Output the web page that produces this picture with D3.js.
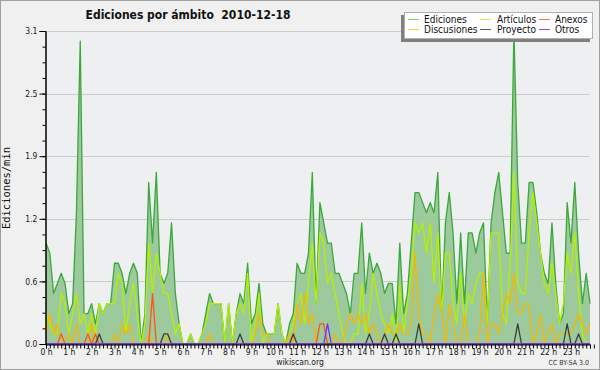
<!DOCTYPE html>
<html>
<head>
<meta charset="utf-8">
<script src="https://cdn.jsdelivr.net/npm/d3@7"></script>
<style>
  body { margin: 0; background: #f0f0f0; }
  svg { display: block; }
  text { font-family: "DejaVu Sans Condensed", "DejaVu Sans", sans-serif; font-stretch: condensed; }
</style>
</head>
<body>
<div id="chart"></div>
<script>
// Canvas
const width = 600,
  height = 370,
  marginLeft = 46,
  marginRight = 10,
  marginTop = 31,
  marginBottom = 26

// Data: edits per minute, one value every 10 minutes
const ediciones = [
  1.0,0.9,0.5,0.6,0.7,0.6,0.3,0.4,1.3,3.0,
  0.3,0.3,0.4,0.2,0.4,0.3,0.4,0.4,0.8,0.8,
  0.7,0.5,0.7,0.8,0.7,0.0,0.3,1.6,1.0,1.7,
  0.7,0.6,0.7,1.2,0.5,0.2,0.0,0.0,0.1,0.0,
  0.0,0.1,0.3,0.5,0.4,0.4,0.4,0.0,0.4,0.0,
  0.3,0.5,0.4,0.8,0.2,0.3,0.6,0.2,0.1,0.1,
  0.1,0.4,0.1,0.0,0.2,0.3,0.8,0.7,0.7,0.9,
  1.7,0.4,1.4,1.2,1.0,1.0,0.7,0.7,0.6,0.5,
  0.3,0.7,0.7,1.2,0.5,0.9,0.7,0.8,0.7,0.5,
  0.6,0.6,0.2,1.0,0.3,0.5,1.0,1.5,1.5,1.4,
  1.3,1.4,1.3,1.7,0.3,1.2,1.5,1.1,0.4,1.1,
  0.4,1.1,1.1,0.9,1.1,1.2,0.2,1.2,1.5,1.7,
  1.3,0.9,0.9,3.1,1.6,1.0,1.0,1.6,1.6,1.3,
  0.9,0.7,0.6,1.2,0.6,0.2,0.3,1.4,1.0,1.6,
  0.9,0.4,0.7,0.4
]
const articulos = [
  0.3,0.2,0.1,0.1,0.5,0.4,0.1,0.3,0.5,0.2,
  0.3,0.1,0.3,0.1,0.4,0.3,0.4,0.4,0.4,0.7,
  0.6,0.1,0.4,0.6,0.3,0.0,0.2,1.0,0.5,0.9,
  0.7,0.5,0.5,0.3,0.1,0.2,0.0,0.0,0.1,0.0,
  0.0,0.1,0.2,0.4,0.4,0.4,0.4,0.0,0.4,0.0,
  0.3,0.4,0.3,0.7,0.0,0.2,0.5,0.0,0.1,0.1,
  0.1,0.4,0.1,0.0,0.1,0.2,0.4,0.5,0.2,0.6,
  1.0,0.4,1.1,1.0,0.6,0.7,0.5,0.3,0.1,0.0,
  0.0,0.1,0.1,0.6,0.1,0.3,0.7,0.5,0.3,0.2,
  0.1,0.3,0.0,0.6,0.1,0.4,0.7,1.2,1.1,1.2,
  0.9,1.2,0.6,1.1,0.3,0.9,0.9,0.4,0.2,0.7,
  0.2,0.5,0.4,0.6,0.7,0.7,0.2,1.1,1.1,1.1,
  0.3,0.2,0.8,1.7,0.6,0.5,0.5,1.1,1.5,1.2,
  0.9,0.6,0.5,0.8,0.5,0.2,0.4,0.9,0.7,1.1,
  0.5,0.1,0.0,0.0
]
const discusiones = [
  0.1,0.3,0.1,0.2,0.0,0.0,0.1,0.0,0.2,0.0,
  0.0,0.0,0.2,0.0,0.0,0.0,0.0,0.0,0.1,0.0,
  0.2,0.1,0.2,0.0,0.0,0.0,0.0,0.1,0.0,0.0,
  0.0,0.0,0.1,0.0,0.0,0.0,0.0,0.0,0.0,0.0,
  0.0,0.0,0.0,0.1,0.0,0.0,0.0,0.0,0.0,0.0,
  0.0,0.0,0.0,0.0,0.0,0.1,0.3,0.1,0.1,0.0,
  0.0,0.0,0.0,0.0,0.1,0.0,0.4,0.2,0.5,0.2,
  0.3,0.0,0.0,0.0,0.0,0.0,0.1,0.0,0.0,0.2,
  0.3,0.2,0.3,0.2,0.3,0.1,0.2,0.1,0.0,0.1,
  0.2,0.1,0.1,0.2,0.1,0.1,0.2,0.9,0.3,0.1,
  0.1,0.0,0.3,0.5,0.3,0.0,0.4,0.2,0.0,0.0,
  0.3,0.0,0.0,0.0,0.1,0.7,0.0,0.2,0.2,0.1,
  0.3,0.5,0.4,0.7,0.3,0.3,0.4,0.4,0.0,0.1,
  0.3,0.0,0.1,0.2,0.0,0.1,0.1,0.1,0.1,0.2,
  0.3,0.2,0.1,0.2
]
// sparse series: index -> value, zero elsewhere
const anexosPeaks = [[4,0.1],[11,0.1],[13,0.1],[28,0.5],[72,0.2],[73,0.2]]
const proyectoPeaks = [[14,0.1],[31,0.1],[32,0.1],[51,0.1],[65,0.1],[85,0.1],[89,0.1],[92,0.1],[98,0.2],[124,0.2],[137,0.2],[140,0.1]]
const otrosPeaks = [[74,0.2]]

const hourLabels = d3.range(24).map(h => h + ' h')
const yTicks = [0, 0.62, 1.24, 1.86, 2.48, 3.1]
const yTickLabels = ['0.0', '0.6', '1.2', '1.9', '2.5', '3.1']

const legendNames = ['Ediciones', 'Artículos', 'Anexos', 'Discusiones', 'Proyecto', 'Otros']
const legendColors = ['#7fcc7f', '#ccee44', '#ff7744', '#ffcc33', '#555555', '#9944ee']

let spread = peaks => {
  let arr = ediciones.map(() => 0)
  peaks.forEach(p => { arr[p[0]] = p[1] })
  return arr
}
const anexos = spread(anexosPeaks),
  proyecto = spread(proyectoPeaks),
  otros = spread(otrosPeaks)

let xScale = d3.scaleLinear()
  .domain([0, ediciones.length - 1])
  .range([marginLeft, width - marginRight])
let yScale = d3.scaleLinear()
  .domain([0, 3.1])
  .range([height - marginBottom, marginTop])

let svg = d3.select('#chart')
  .append('svg')
  .attr('width', width)
  .attr('height', height)

svg.append('rect')
  .attr('x', 0.5).attr('y', 0.5)
  .attr('width', width - 1).attr('height', height - 1)
  .attr('fill', '#f0f0f0')
  .attr('stroke', '#a0a0a0')

// plot background
svg.append('rect')
  .attr('x', marginLeft).attr('y', marginTop)
  .attr('width', width - marginRight - marginLeft)
  .attr('height', height - marginBottom - marginTop)
  .attr('fill', '#eeeff1')

// grid
svg.append('g')
  .selectAll('line')
  .data(yTicks.slice(1))
  .enter()
  .append('line')
  .attr('x1', marginLeft).attr('x2', width - marginRight)
  .attr('y1', d => Math.round(yScale(d)) + 0.5)
  .attr('y2', d => Math.round(yScale(d)) + 0.5)
  .attr('stroke', '#cccccc')

// Ediciones area
let area = d3.area()
  .x((d, i) => xScale(i))
  .y0(yScale(0))
  .y1(d => yScale(d))
svg.append('path')
  .datum(ediciones)
  .attr('d', area)
  .attr('fill', '#9dca9d')

let line = d3.line()
  .x((d, i) => xScale(i))
  .y(d => yScale(d))

let series = [
  [ediciones, '#3aa83a'],
  [articulos, '#b4f000'],
  [discusiones, '#f2b900'],
  [anexos, '#ff5511'],
  [proyecto, '#3c3c3c'],
  [otros, '#7a2cff']
]
series.forEach(s => {
  svg.append('path')
    .datum(s[0])
    .attr('d', line)
    .attr('fill', 'none')
    .attr('stroke', s[1])
    .attr('stroke-width', 1.3)
    .attr('stroke-linejoin', 'round')
})

// y axis
let yAxis = d3.axisLeft(yScale)
  .tickValues(yTicks)
  .tickSize(6)
  .tickFormat((d, i) => yTickLabels[i])
let yMinor = d3.axisLeft(yScale)
  .tickValues(d3.range(21).map(k => k * 0.155))
  .tickSize(3)
  .tickFormat('')

svg.append('g')
  .attr('transform', `translate(${marginLeft - 0.5},0)`)
  .call(yMinor)
let yg = svg.append('g')
  .attr('transform', `translate(${marginLeft - 0.5},0)`)
  .call(yAxis)
yg.selectAll('text')
  .attr('font-size', 8.5)
  .attr('fill', '#222')
  .attr('dx', 1)

// x axis
let xAxis = d3.axisBottom(xScale)
  .tickValues(d3.range(ediciones.length + 1))
  .tickSize(4)
  .tickPadding(0)
  .tickFormat(i => i % 6 === 0 && i < ediciones.length ? hourLabels[i / 6] : '')
let xg = svg.append('g')
  .attr('transform', `translate(0,${height - marginBottom + 0.5})`)
  .call(xAxis)
xg.selectAll('text')
  .attr('font-size', 8.5)
  .attr('fill', '#111')

svg.selectAll('.domain').attr('stroke', '#000')
svg.selectAll('.tick line').attr('stroke', '#000')

// titles
svg.append('text')
  .attr('x', 188).attr('y', 18.5)
  .attr('text-anchor', 'middle')
  .attr('font-size', 12)
  .attr('font-weight', 'bold')
  .attr('fill', '#111')
  .style('white-space', 'pre')
  .text('Ediciones por ámbito  2010-12-18')

svg.append('text')
  .attr('transform', 'translate(10,188) rotate(-90)')
  .attr('text-anchor', 'middle')
  .style('font-family', '"DejaVu Sans Mono", monospace')
  .attr('font-size', 10.5)
  .attr('fill', '#111')
  .text('Ediciones/min')

svg.append('text')
  .attr('x', 300).attr('y', 365)
  .attr('text-anchor', 'middle')
  .attr('font-size', 8.5)
  .attr('fill', '#222')
  .text('wikiscan.org')

svg.append('text')
  .attr('x', 589).attr('y', 365)
  .attr('text-anchor', 'end')
  .attr('font-size', 7)
  .attr('fill', '#333')
  .text('CC BY-SA 3.0')

// legend
let legend = svg.append('g')
legend.append('rect')
  .attr('x', 401).attr('y', 15)
  .attr('width', 189).attr('height', 27)
  .attr('fill', '#808080')
legend.append('rect')
  .attr('x', 404.5).attr('y', 12.5)
  .attr('width', 188).attr('height', 26)
  .attr('fill', '#ffffff')
  .attr('stroke', '#b0b0b0')

const colX = [408, 480, 539],
  textX = [424, 497, 555],
  rowY = [19.5, 29.5]

legendNames.forEach((name, k) => {
  let c = k % 3, r = Math.floor(k / 3)
  legend.append('line')
    .attr('x1', colX[c]).attr('x2', colX[c] + 11)
    .attr('y1', rowY[r]).attr('y2', rowY[r])
    .attr('stroke', legendColors[k])
  legend.append('text')
    .attr('x', textX[c]).attr('y', rowY[r] + 3.5)
    .attr('font-size', 10)
    .attr('fill', '#111')
    .text(name)
})
</script>
</body>
</html>
